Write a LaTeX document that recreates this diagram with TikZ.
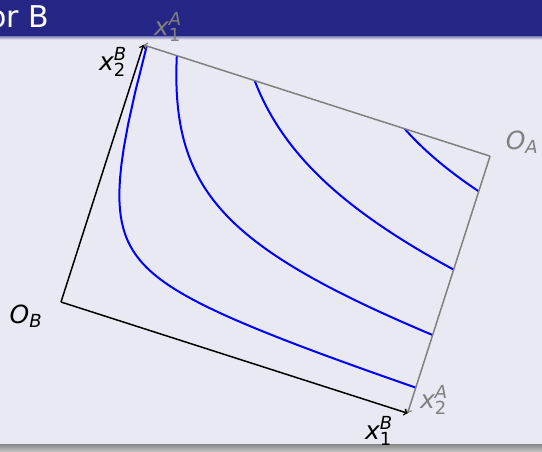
\documentclass[tikz,border=0pt]{standalone}
\usepackage{fontspec}
\setmainfont{DejaVu Sans}
\setsansfont{DejaVu Sans}
\definecolor{barblue}{RGB}{38,38,134}
\definecolor{bgcol}{RGB}{233,233,243}
\definecolor{axgray}{RGB}{128,128,128}
\newcommand\lblfull[3]{$\mbox{\itshape #1}^{\mbox{\fontsize{18}{18}\selectfont\itshape #2}}_{\mbox{\fontsize{18}{18}\selectfont #3}}$}
\newcommand\lblsub[2]{$\mbox{\itshape #1}_{\mbox{\fontsize{18}{18}\selectfont\itshape #2}}$}
\tikzset{
  axisline/.style={line width=1.5pt, black, ->},
  boxline/.style={line width=1.5pt, axgray, ->},
  icurve/.style={line width=2pt, blue, samples=120},
  lblnode/.style={inner sep=0pt, font=\fontsize{25}{30}\selectfont},
}
\begin{document}
\begin{tikzpicture}[x=1pt,y=-1pt]
\useasboundingbox (0,0) rectangle (542,451);
% background
\fill[bgcol] (0,0) rectangle (542,451);
\fill[barblue] (0,0) rectangle (542,36);
\shade[top color=barblue!55!bgcol, bottom color=bgcol] (0,36) rectangle (542,39.5);
\shade[top color={rgb,255:red,135;green,135;blue,135}, bottom color={rgb,255:red,192;green,192;blue,192}] (0,444) rectangle (542,451);
\node[anchor=base west, inner sep=0pt, text=white, font=\fontsize{30}{36}\selectfont] (title) at (-12,27) {or B};

\begin{scope}[shift={(61,302)}, x={(0.9521pt,-0.3055pt)}, y={(0.3055pt,0.9521pt)}]
  % corners of the box
  \coordinate (OB) at (0,0);
  \coordinate (BR) at (364,0);
  \coordinate (TL) at (0,270);
  \coordinate (OA) at (364,270);
  % indifference curves
  \draw[icurve] plot[domain=3.45:364] (\x, {18+33.10/((\x+9.68)/100)});
  \draw[icurve] plot[domain=35.0:364] (\x, {48+132.54/((\x+24.7)/100)});
  \draw[icurve] plot[domain=116.7:364] (\x, {75+306.62/((\x+40.5)/100)});
  \draw[icurve] plot[domain=274.2:364] (\x, {150+241.60/((\x-72.9)/100)});
  % A's box (gray)
  \draw[boxline] (OA) -- (TL);
  \draw[boxline] (OA) -- (BR);
  % B's axes (black)
  \draw[axisline] (OB) -- (TL);
  \draw[axisline] (OB) -- (BR);
\end{scope}

% labels
\node[lblnode, text=axgray] (x1A) at (168,27) {\lblfull{x}{A}{1}};
\node[lblnode] (x2B) at (113,62) {\lblfull{x}{B}{2}};
\node[lblnode, text=axgray] (OAl) at (522,142) {\lblsub{O}{A}};
\node[lblnode] (OBl) at (26,316) {\lblsub{O}{B}};
\node[lblnode, text=axgray] (x2A) at (434,400) {\lblfull{x}{A}{2}};
\node[lblnode] (x1B) at (379,431) {\lblfull{x}{B}{1}};
\end{tikzpicture}
\end{document}
